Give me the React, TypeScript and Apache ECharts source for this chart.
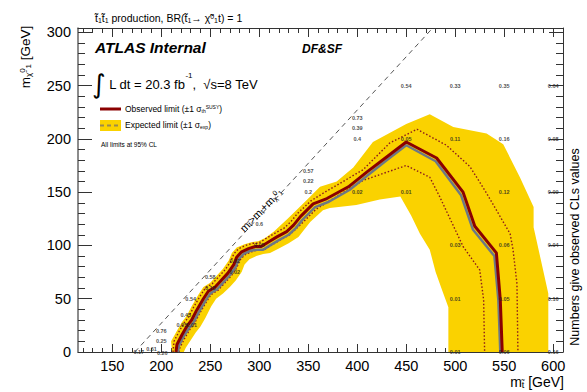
import React, { useEffect, useRef } from "react";
import * as echarts from "echarts";

const FONT = "'Liberation Sans', Arial, Helvetica, sans-serif";
const YELLOW = "#fad200";
const OBS_COLOR = "#8b0000";

// axis ranges and ticks
const xMin = 115;
const xMax = 610;
const yMin = 0;
const yMax = 304;
const xMajorTicks = [150, 200, 250, 300, 350, 400, 450, 500, 550, 600];
const xMinorTicks = [120, 130, 140, 160, 170, 180, 190, 210, 220, 230, 240, 260, 270, 280, 290, 310, 320, 330, 340, 360, 370, 380, 390, 410, 420, 430, 440, 460, 470, 480, 490, 510, 520, 530, 540, 560, 570, 580, 590];
const yMajorTicks = [0, 50, 100, 150, 200, 250, 300];
const yMinorTicks = [10, 20, 30, 40, 60, 70, 80, 90, 110, 120, 130, 140, 160, 170, 180, 190, 210, 220, 230, 240, 260, 270, 280, 290];

// observed limit
const obsX = [215, 216, 221, 226, 231, 236, 243, 248, 255, 262, 268, 274, 277, 282, 289, 296, 302, 309, 318, 328, 335, 342, 355, 369, 391, 410, 430, 450, 481, 508, 520, 542, 546, 548];
const obsY = [0, 7, 16, 24, 30, 39, 50, 57, 61, 68, 74, 82, 89, 94, 97, 99, 99, 103, 108, 113, 119, 127, 139, 144, 155, 169, 183, 197, 182, 150, 118, 93, 49, 0];

// expected limit
const expX = [217, 218, 223, 228, 233, 238, 245, 250, 257, 264, 270, 276, 279, 284, 291, 298, 304, 311, 320, 330, 337, 344, 357, 371, 392, 411, 430, 450, 480, 506, 518, 540, 544, 546];
const expY = [0, 6, 15, 22, 28, 37, 48, 55, 59, 66, 72, 80, 87, 92, 95, 96, 96, 100, 105, 110, 116, 124, 136, 141, 152, 166, 180, 194, 179, 147, 115, 90, 49, 0];

// observed +1 sigma theory
const thUpX = [212, 213, 218, 223, 228, 233, 240, 245, 252, 259, 265, 271, 274, 279, 286, 293, 299, 306, 315, 325, 332, 339, 353, 367, 406, 433, 461, 491, 515, 532, 556, 559, 563, 564];
const thUpY = [0, 10, 19, 27, 33, 42, 53, 60, 64, 71, 77, 85, 92, 97, 100, 102, 102, 106, 111, 116, 122, 130, 142, 150, 171, 196, 209, 194, 174, 149, 111, 96, 64, 0];

// observed -1 sigma theory
const thDnX = [218, 219, 224, 229, 234, 239, 246, 251, 258, 265, 271, 277, 280, 285, 292, 299, 305, 312, 321, 331, 338, 345, 358, 372, 406, 450, 474, 484, 508, 525, 529, 530];
const thDnY = [0, 4, 13, 21, 27, 36, 47, 54, 58, 65, 71, 79, 86, 91, 94, 96, 96, 100, 105, 110, 116, 122, 134, 142, 161, 175, 164, 146, 99, 77, 49, 0];

// expected +-1 sigma band: outer and inner edges
const bandOutX = [211, 210, 216, 221, 226, 231, 238, 243, 250, 257, 263, 269, 272, 277, 285, 292, 299, 306, 315, 330, 349, 362, 379, 396, 416, 450, 474, 498, 532, 549, 566, 580, 580, 595, 595];
const bandOutY = [0, 10, 20, 28, 34, 43, 54, 61, 65, 72, 78, 86, 93, 98, 101, 103, 104, 107, 113, 126, 143, 155, 160, 173, 197, 214, 223, 211, 205, 195, 164, 136, 117, 55, 0];
const bandInX = [223, 225, 230, 235, 240, 245, 251, 256, 263, 270, 276, 282, 285, 290, 297, 304, 311, 320, 330, 340, 352, 365, 372, 399, 423, 444, 455, 464, 474, 480, 487, 493, 493];
const bandInY = [0, 4, 11, 18, 24, 32, 43, 50, 55, 61, 67, 75, 82, 87, 90, 92, 93, 97, 102, 108, 122, 133, 135, 138, 143, 146, 128, 111, 96, 75, 57, 42, 0];

// kinematic limit m_stop = m_top + m_chi
const kinX = [173, 477];
const kinY = [0, 304];

// observed CLs values
const clsX = [177, 190, 201, 200, 200, 221, 231, 225, 230, 250, 250, 275, 275, 300, 300, 350, 350, 350, 400, 400, 400, 400, 450, 450, 450, 500, 500, 500, 500, 500, 550, 550, 550, 550, 550, 550, 600, 600, 600, 600, 600, 600];
const clsY = [0, 3, -1, 10, 20, 25, 25, 35, 50, 60, 70, 75, 85, 100, 120, 150, 160, 170, 150, 200, 210, 220, 150, 200, 250, 0, 50, 100, 200, 250, 0, 50, 100, 150, 200, 250, 0, 50, 100, 150, 200, 250];
const clsText = ["0.17", "0.61", "0.26", "0.25", "0.76", "0.05", "0.01", "0.45", "0.54", "0.18", "0.58", "0.02", "0.02", "0.05", "0.6", "0.2", "0.22", "0.57", "0.02", "0.4", "0.39", "0.73", "0.01", "0.05", "0.54", "0.01", "0.01", "0.03", "0.11", "0.33", "0.06", "0.05", "0.06", "0.12", "0.16", "0.35", "0.16", "0.16", "0.04", "0.09", "0.08", "0.64"];

const zip = (xs: number[], ys: number[]) => xs.map((x, i) => [x, ys[i]]);

const bandPolygon = [...zip(bandOutX, bandOutY), ...zip(bandInX, bandInY).reverse()];

const AX = "#333";

function xAxisDef(position: "top" | "bottom", ticks: number[], len: number, showLine: boolean, showLabel: boolean) {
  return {
    type: "value",
    min: xMin,
    max: xMax,
    position,
    axisLine: { show: showLine, onZero: false, lineStyle: { color: AX, width: 1 } },
    axisTick: { show: true, inside: true, length: len, customValues: ticks, lineStyle: { color: AX, width: 1 } },
    axisLabel: {
      show: showLabel,
      customValues: ticks,
      fontSize: 14.5,
      fontFamily: FONT,
      color: "#000",
      margin: 6,
    },
    splitLine: { show: false },
    minorTick: { show: false },
  };
}

function yAxisDef(position: "left" | "right", ticks: number[], len: number, showLine: boolean, showLabel: boolean) {
  return {
    type: "value",
    min: yMin,
    max: yMax,
    position,
    axisLine: { show: showLine, onZero: false, lineStyle: { color: position === "left" ? "#666" : AX, width: position === "left" ? 1.5 : 1 } },
    axisTick: { show: true, inside: true, length: len, customValues: ticks, lineStyle: { color: AX, width: 1 } },
    axisLabel: {
      show: showLabel,
      customValues: ticks,
      fontSize: 14.5,
      fontFamily: FONT,
      color: "#000",
      margin: 7,
    },
    splitLine: { show: false },
    minorTick: { show: false },
  };
}

const richBase = (size: number) => ({
  n: { fontSize: size, fontFamily: FONT, fill: "#000" },
  s: { fontSize: Math.round(size * 0.62), fontFamily: FONT, fill: "#000", verticalAlign: "bottom" },
  sp: { fontSize: Math.round(size * 0.62), fontFamily: FONT, fill: "#000", verticalAlign: "top" },
});

const option: any = {
  animation: false,
  backgroundColor: "#fff",
  grid: { left: 78, right: 24, top: 28, bottom: 40, containLabel: false, outerBoundsMode: "none" },
  xAxis: [
    xAxisDef("bottom", xMajorTicks, 8, true, true),
    xAxisDef("bottom", xMinorTicks, 4, false, false),
    xAxisDef("top", xMajorTicks, 9, true, false),
    xAxisDef("top", xMinorTicks, 5, false, false),
  ],
  yAxis: [
    yAxisDef("left", yMajorTicks, 14, true, true),
    yAxisDef("left", yMinorTicks, 7, false, false),
    yAxisDef("right", yMajorTicks, 14, true, false),
    yAxisDef("right", yMinorTicks, 7, false, false),
  ],
  series: [
    {
      type: "custom",
      xAxisIndex: 0,
      yAxisIndex: 0,
      data: bandPolygon,
      encode: { x: 0, y: 1 },
      clip: true,
      z: 1,
      silent: true,
      renderItem: (params: any, api: any) => {
        if (params.dataIndex !== 0) return null;
        const pts = bandPolygon.map((p) => api.coord(p));
        return { type: "polygon", shape: { points: pts }, style: { fill: YELLOW } };
      },
    },
    {
      type: "line",
      data: zip(thUpX, thUpY),
      symbol: "none",
      z: 3,
      lineStyle: { color: "#8b1a1a", width: 1.4, type: [1.5, 2] },
    },
    {
      type: "line",
      data: zip(thDnX, thDnY),
      symbol: "none",
      z: 3,
      lineStyle: { color: "#8b1a1a", width: 1.4, type: [1.5, 2] },
    },
    {
      type: "line",
      data: zip(expX, expY),
      symbol: "none",
      z: 4,
      lineStyle: { color: "#6d7886", width: 2.5 },
    },
    {
      type: "line",
      data: zip(obsX, obsY),
      symbol: "none",
      z: 5,
      lineStyle: { color: OBS_COLOR, width: 3 },
    },
    {
      type: "line",
      data: zip(kinX, kinY),
      symbol: "none",
      z: 2,
      lineStyle: { color: "#555", width: 1, type: [5, 4] },
    },
    {
      type: "scatter",
      data: clsX.map((x, i) => [x, clsY[i], clsText[i]]),
      symbolSize: 1,
      clip: false,
      z: 6,
      itemStyle: { color: "rgba(0,0,0,0)" },
      label: {
        show: true,
        position: "inside",
        formatter: (p: any) => p.value[2],
        fontSize: 5.5,
        fontWeight: "bold",
        fontFamily: FONT,
        color: "#222",
      },
    },
  ],
  graphic: [
    {
      type: "text",
      x: 95,
      y: 18,
      z: 10,
      style: {
        text: "{n|t\u0303}{s|1}{n|t\u0303}{s|1}{n| production, BR(}{n|t\u0303}{s|1}{n|\u2192 }{n|\u03c7\u0303}{sp|0}{s|1}{n|t) = 1}",
        rich: richBase(10.5),
        align: "left",
        verticalAlign: "middle",
        fontSize: 10.5,
        fontFamily: FONT,
        fill: "#000",
      },
    },
    {
      type: "text",
      x: 95,
      y: 47,
      z: 10,
      style: {
        text: "ATLAS Internal",
        fontSize: 15.5,
        fontWeight: "bold",
        fontStyle: "italic",
        fontFamily: FONT,
        fill: "#000",
        align: "left",
        verticalAlign: "middle",
      },
    },
    {
      type: "text",
      x: 302,
      y: 49,
      z: 10,
      style: {
        text: "DF&SF",
        fontSize: 12,
        fontWeight: "bold",
        fontStyle: "italic",
        fontFamily: FONT,
        fill: "#000",
        align: "left",
        verticalAlign: "middle",
      },
    },
    {
      type: "text",
      x: 92,
      y: 84,
      z: 10,
      style: {
        text: "{i|\u222b}{n| L dt = 20.3 fb}{sp|-1}{n|,  \u221as=8 TeV}",
        rich: {
          ...richBase(13),
          i: { fontSize: 26, fontFamily: "'DejaVu Sans', sans-serif", fill: "#000" },
        },
        align: "left",
        verticalAlign: "middle",
        fontSize: 13,
        fontFamily: FONT,
        fill: "#000",
      },
    },
    {
      type: "line",
      z: 10,
      shape: { x1: 100, y1: 109, x2: 121, y2: 109 },
      style: { stroke: OBS_COLOR, lineWidth: 3 },
    },
    {
      type: "rect",
      z: 10,
      shape: { x: 100, y: 120, width: 21, height: 11 },
      style: { fill: YELLOW },
    },
    {
      type: "line",
      z: 11,
      shape: { x1: 100, y1: 125.5, x2: 121, y2: 125.5 },
      style: { stroke: "#9a8a50", lineWidth: 2, lineDash: [4, 3] },
    },
    {
      type: "text",
      x: 125,
      y: 109,
      z: 10,
      style: {
        text: "{n|Observed limit (\u00b11 \u03c3}{s|th}{sp|SUSY}{n|)}",
        rich: richBase(8.5),
        align: "left",
        verticalAlign: "middle",
        fontSize: 8.5,
        fontFamily: FONT,
        fill: "#000",
      },
    },
    {
      type: "text",
      x: 125,
      y: 125,
      z: 10,
      style: {
        text: "{n|Expected limit (\u00b11 \u03c3}{s|exp}{n|)}",
        rich: richBase(8.5),
        align: "left",
        verticalAlign: "middle",
        fontSize: 8.5,
        fontFamily: FONT,
        fill: "#000",
      },
    },
    {
      type: "text",
      x: 101,
      y: 144,
      z: 10,
      style: {
        text: "All limits at 95% CL",
        fontSize: 6.5,
        fontFamily: FONT,
        fill: "#000",
        align: "left",
        verticalAlign: "middle",
      },
    },
    {
      type: "text",
      x: 25,
      y: 57,
      z: 10,
      rotation: Math.PI / 2,
      style: {
        text: "{n|m}{s|\u03c7\u0303}{sp|0}{s|1}{n| [GeV]}",
        rich: richBase(13.5),
        align: "center",
        verticalAlign: "middle",
        fontSize: 13.5,
        fontFamily: FONT,
        fill: "#000",
      },
    },
    {
      type: "text",
      x: 564,
      y: 382,
      z: 10,
      style: {
        text: "{n|m}{s|t\u0303}{n| [GeV]}",
        rich: richBase(14),
        align: "right",
        verticalAlign: "middle",
        fontSize: 14,
        fontFamily: FONT,
        fill: "#000",
      },
    },
    {
      type: "text",
      x: 575,
      y: 247,
      z: 10,
      rotation: Math.PI / 2,
      style: {
        text: "Numbers give observed CLs values",
        fontSize: 12.5,
        fontFamily: FONT,
        fill: "#000",
        align: "center",
        verticalAlign: "middle",
      },
    },
    {
      type: "text",
      x: 261,
      y: 210,
      z: 10,
      rotation: 0.8,
      style: {
        text: "{n|m}{s|t\u0303}{n|>m}{s|t}{n|+m}{s|\u03c7\u0303}{sp|0}{s|1}",
        rich: richBase(11),
        align: "center",
        verticalAlign: "middle",
        fontSize: 11,
        fontFamily: FONT,
        fill: "#000",
      },
    },
  ],
};

export default function App() {
  const ref = useRef<HTMLDivElement>(null);
  useEffect(() => {
    const chart = echarts.init(ref.current as HTMLDivElement, undefined, { renderer: "svg" });
    chart.setOption(option);
    return () => chart.dispose();
  }, []);
  return (
    <div
      ref={ref}
      style={{ position: "fixed", left: 0, top: 0, width: 587, height: 392, background: "#fff" }}
    />
  );
}
